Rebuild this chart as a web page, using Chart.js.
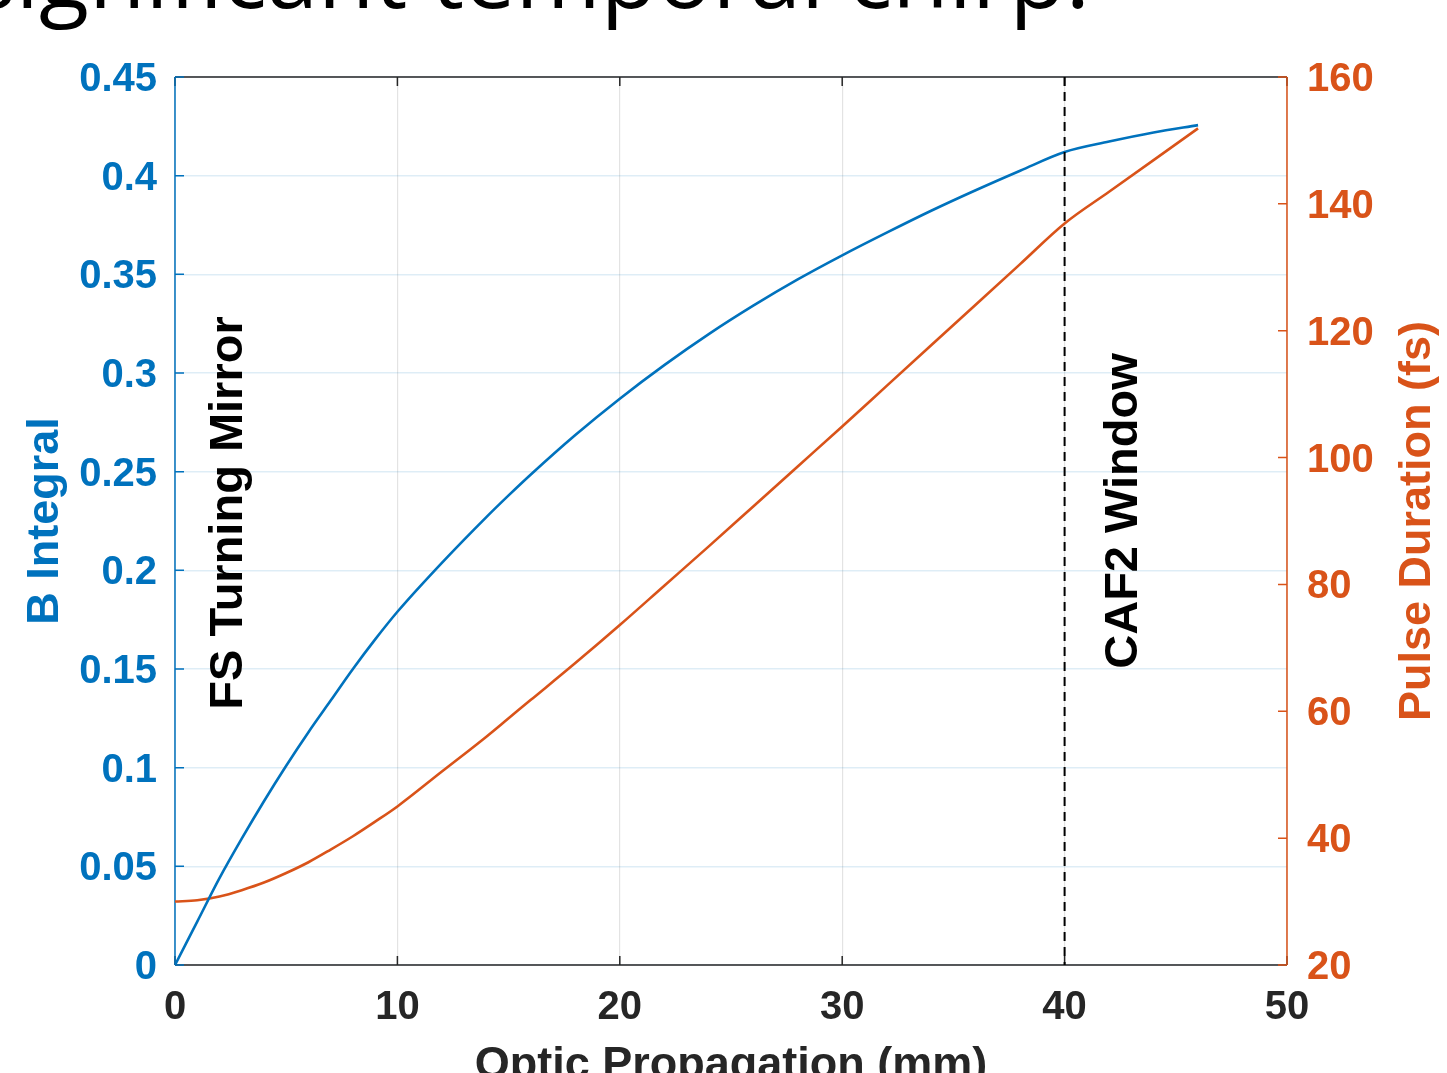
<!DOCTYPE html>
<html>
<head>
<meta charset="utf-8">
<script src="https://cdn.jsdelivr.net/npm/chart.js@4.4.1/dist/chart.umd.min.js"></script>
<style>
  html, body { margin: 0; padding: 0; background: #fff; overflow: hidden; }
  #wrap { position: relative; width: 1447px; height: 1073px; }
  #title {
    position: absolute; left: 1090px; top: -73px;
    transform: translateX(-100%);
    font-family: "Open Sans", sans-serif; font-size: 92px; line-height: 1;
    white-space: nowrap; color: #000;
  }
  canvas { position: absolute; left: 0; top: 0; }
</style>
</head>
<body>
<div id="wrap">
  <canvas id="chart" width="1447" height="1073"></canvas>
  <div id="title">significant temporal chirp:</div>
</div>
<script>
// propagation distance (mm)
const distance = [0, 1, 2, 3, 4, 5, 6, 7, 8, 9, 10, 12, 14, 15, 16, 18, 20, 22, 24, 26, 28, 30, 32, 34, 36, 38, 40, 42, 44, 46];
// B integral (left axis)
const bIntegral = [0, 0.022, 0.044, 0.064, 0.083, 0.101, 0.118, 0.134, 0.150, 0.165, 0.179, 0.2038, 0.227, 0.238, 0.2486, 0.2686, 0.287, 0.304, 0.3197, 0.3341, 0.3474, 0.3596, 0.3711, 0.3822, 0.3926, 0.4025, 0.412, 0.4173, 0.4219, 0.4256];
// pulse duration in fs (right axis)
const pulseDuration = [30, 30.2, 30.8, 31.8, 33, 34.5, 36.2, 38.2, 40.3, 42.6, 45, 50.5, 56, 58.9, 61.8, 67.6, 73.6, 79.8, 86, 92.3, 98.6, 104.9, 111.3, 117.7, 124.1, 130.5, 136.9, 141.9, 146.9, 151.9];

const xTicks = [0, 10, 20, 30, 40, 50];
const leftTicks = [0, 0.05, 0.1, 0.15, 0.2, 0.25, 0.3, 0.35, 0.4, 0.45];
const rightTicks = [20, 40, 60, 80, 100, 120, 140, 160];

const opticMarkers = [
    { x: 40, label: 'CAF2 Window', dashed: true },
    { x: 1.5, label: 'FS Turning Mirror', dashed: false }
];

const BLUE = '#0072BD';
const ORANGE = '#D95319';
const DARK = '#262626';
const FONT = '"Liberation Sans", Arial, sans-serif';

function points(ys) {
    return distance.map((x, i) => ({ x: x, y: ys[i] }));
}

const framePlugin = {
    id: 'frame',
    beforeDatasetsDraw(chart) {
        const ctx = chart.ctx;
        const a = chart.chartArea;
        const sx = chart.scales.x, sl = chart.scales.yL, sr = chart.scales.yR;
        const tick = 9;
        ctx.save();
        ctx.lineWidth = 1.5;
        // top and bottom
        ctx.strokeStyle = DARK;
        ctx.beginPath();
        ctx.moveTo(a.left, a.top); ctx.lineTo(a.right, a.top);
        ctx.moveTo(a.left, a.bottom); ctx.lineTo(a.right, a.bottom);
        xTicks.forEach(v => {
            const px = sx.getPixelForValue(v);
            ctx.moveTo(px, a.bottom); ctx.lineTo(px, a.bottom - tick);
            ctx.moveTo(px, a.top); ctx.lineTo(px, a.top + tick);
        });
        ctx.stroke();
        // left axis
        ctx.strokeStyle = BLUE;
        ctx.beginPath();
        ctx.moveTo(a.left, a.top); ctx.lineTo(a.left, a.bottom);
        leftTicks.forEach(v => {
            const py = sl.getPixelForValue(v);
            ctx.moveTo(a.left, py); ctx.lineTo(a.left + tick, py);
        });
        ctx.stroke();
        // right axis
        ctx.strokeStyle = ORANGE;
        ctx.beginPath();
        ctx.moveTo(a.right, a.top); ctx.lineTo(a.right, a.bottom);
        rightTicks.forEach(v => {
            const py = sr.getPixelForValue(v);
            ctx.moveTo(a.right, py); ctx.lineTo(a.right - tick, py);
        });
        ctx.stroke();
        ctx.restore();
    },
    afterDatasetsDraw(chart) {
        const ctx = chart.ctx;
        const a = chart.chartArea;
        const sx = chart.scales.x;
        ctx.save();
        // dashed marker line + rotated labels
        opticMarkers.forEach(m => {
            const px = sx.getPixelForValue(m.x);
            if (m.dashed) {
                ctx.strokeStyle = '#000';
                ctx.lineWidth = 2;
                ctx.setLineDash([9, 6]);
                ctx.beginPath();
                ctx.moveTo(px, a.top); ctx.lineTo(px, a.bottom);
                ctx.stroke();
                ctx.setLineDash([]);
            }
        });
        ctx.fillStyle = '#000';
        ctx.font = 'bold 47px ' + FONT;
        ctx.textAlign = 'center';
        ctx.textBaseline = 'alphabetic';
        drawRotated(ctx, 'FS Turning Mirror', 242, 513);
        drawRotated(ctx, 'CAF2 Window', 1137, 511);

        // axis titles
        const midY = (a.top + a.bottom) / 2;
        ctx.font = 'bold 45px ' + FONT;
        ctx.fillStyle = BLUE;
        drawRotated(ctx, 'B Integral', 58, midY);
        ctx.fillStyle = ORANGE;
        drawRotated(ctx, 'Pulse Duration (fs)', 1430, midY);
        ctx.fillStyle = DARK;
        ctx.fillText('Optic Propagation (mm)', (a.left + a.right) / 2, 1078);
        ctx.restore();
    }
};

function drawRotated(ctx, text, x, y) {
    ctx.save();
    ctx.translate(x, y);
    ctx.rotate(-Math.PI / 2);
    ctx.fillText(text, 0, 0);
    ctx.restore();
}

new Chart(document.getElementById('chart').getContext('2d'), {
    type: 'line',
    data: {
        datasets: [
            {
                label: 'B Integral',
                data: points(bIntegral),
                yAxisID: 'yL',
                borderColor: BLUE,
                borderWidth: 2.6,
                pointRadius: 0,
                cubicInterpolationMode: 'monotone'
            },
            {
                label: 'Pulse Duration',
                data: points(pulseDuration),
                yAxisID: 'yR',
                borderColor: ORANGE,
                borderWidth: 2.6,
                pointRadius: 0,
                cubicInterpolationMode: 'monotone'
            }
        ]
    },
    options: {
        responsive: false,
        animation: false,
        devicePixelRatio: 1,
        layout: { padding: { top: 77, left: 0, right: 0, bottom: 0 } },
        plugins: { legend: { display: false }, tooltip: { enabled: false } },
        scales: {
            x: {
                type: 'linear',
                min: 0, max: 50,
                afterFit(s) { s.height = 108; },
                afterBuildTicks(s) { s.ticks = xTicks.map(v => ({ value: v })); },
                border: { display: false },
                grid: { color: 'rgba(38,38,38,0.13)', lineWidth: 1.2, drawTicks: false },
                ticks: { color: DARK, padding: 23, font: { family: FONT, size: 40, weight: 'bold', lineHeight: 1 } }
            },
            yL: {
                type: 'linear',
                position: 'left',
                min: 0, max: 0.45,
                afterFit(s) { s.width = 175; },
                afterBuildTicks(s) { s.ticks = leftTicks.map(v => ({ value: v })); },
                border: { display: false },
                grid: { color: 'rgba(0,114,189,0.13)', lineWidth: 1.5, drawTicks: false },
                ticks: {
                    color: BLUE, padding: 18, labelOffset: 3,
                    font: { family: FONT, size: 40, weight: 'bold' },
                    callback: v => String(Number(v.toFixed(2)))
                }
            },
            yR: {
                type: 'linear',
                position: 'right',
                min: 20, max: 160,
                afterFit(s) { s.width = 160; },
                afterBuildTicks(s) { s.ticks = rightTicks.map(v => ({ value: v })); },
                border: { display: false },
                grid: { display: false, drawTicks: false },
                ticks: { color: ORANGE, padding: 20, labelOffset: 3, font: { family: FONT, size: 40, weight: 'bold' } }
            }
        }
    },
    plugins: [framePlugin]
});
</script>
</body>
</html>
